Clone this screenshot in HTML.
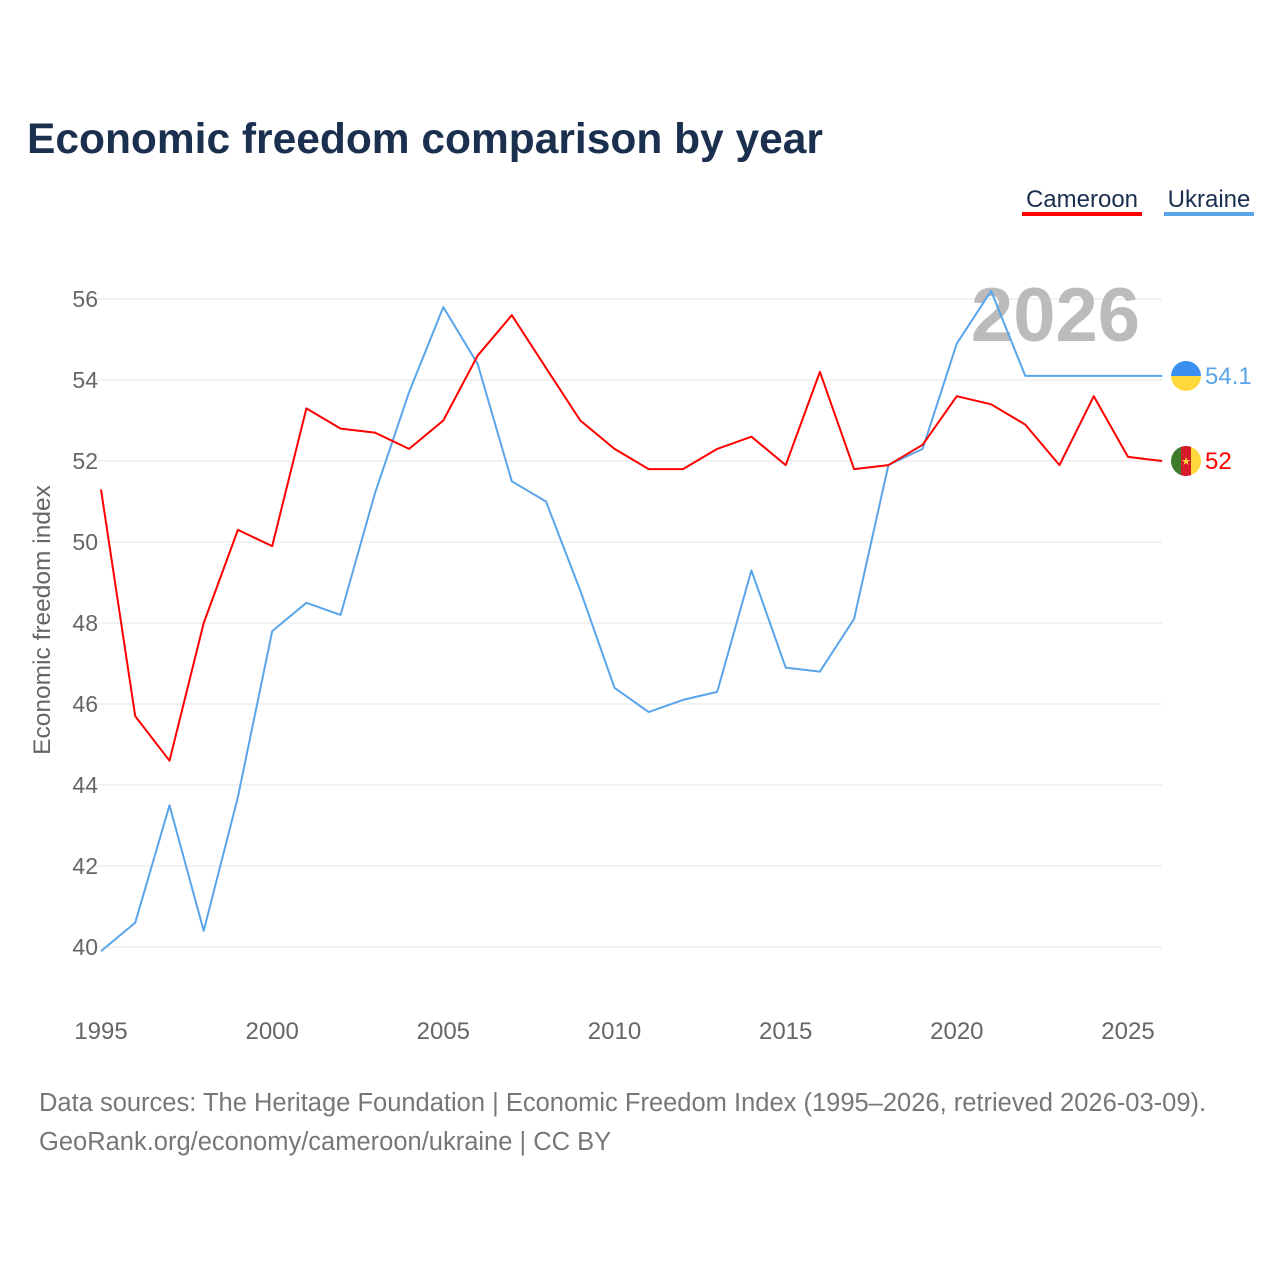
<!DOCTYPE html>
<html><head><meta charset="utf-8">
<style>
body{margin:0;background:#fff;font-family:"Liberation Sans",sans-serif;}
#wrap{position:relative;width:1280px;height:1280px;overflow:hidden;}
</style></head>
<body>
<div id="wrap">
<svg id="chart" width="1280" height="1280">
<defs><clipPath id="cmclip"><circle id="cmcirc" cx="1186" cy="461" r="15"/></clipPath></defs>
</svg>
</div>
<script>
const years=[1995,1996,1997,1998,1999,2000,2001,2002,2003,2004,2005,2006,2007,2008,2009,2010,2011,2012,2013,2014,2015,2016,2017,2018,2019,2020,2021,2022,2023,2024,2025,2026];
const cameroon=[51.3,45.7,44.6,48.0,50.3,49.9,53.3,52.8,52.7,52.3,53.0,54.6,55.6,54.3,53.0,52.3,51.8,51.8,52.3,52.6,51.9,54.2,51.8,51.9,52.4,53.6,53.4,52.9,51.9,53.6,52.1,52.0];
const ukraine=[39.9,40.6,43.5,40.4,43.7,47.8,48.5,48.2,51.2,53.7,55.8,54.4,51.5,51.0,48.8,46.4,45.8,46.1,46.3,49.3,46.9,46.8,48.1,51.9,52.3,54.9,56.2,54.1,54.1,54.1,54.1,54.1];
const yTicks=[40,42,44,46,48,50,52,54,56];
const xTicks=[1995,2000,2005,2010,2015,2020,2025];

const NS="http://www.w3.org/2000/svg";
const svg=document.getElementById('chart');
const x=v=>101+(v-1995)*(1128-101)/30;
const y=v=>947-(v-40)*(947-299)/16;
function mk(tag,attrs,text,parent){const e=document.createElementNS(NS,tag);for(const k in attrs)e.setAttribute(k,attrs[k]);if(text!==undefined)e.textContent=text;(parent||svg).appendChild(e);return e;}
const F='"Liberation Sans",sans-serif';

let t=mk('text',{x:27,y:153,'font-size':42.5,'font-weight':'bold',fill:'#1b2f4f','font-family':F},'Economic freedom comparison by year');



t=mk('text',{x:1082,y:207,'font-size':24,fill:'#1b2f4f','text-anchor':'middle','font-family':F},'Cameroon');


t=mk('rect',{x:1022,y:212,width:120,height:4,fill:'#ff0000'});


t=mk('text',{x:1209,y:207,'font-size':24,fill:'#1b2f4f','text-anchor':'middle','font-family':F},'Ukraine');


t=mk('rect',{x:1164,y:212,width:90,height:4,fill:'#5aa5ea'});



yTicks.forEach(v=>{
  let g=mk('line',{x1:95,x2:1162,y1:y(v),y2:y(v),stroke:'#e6e6e6','stroke-width':1});
  
  
  let l=mk('text',{x:98,y:y(v)+8,'font-size':23,fill:'#666','text-anchor':'end','font-family':F},String(v));
  
  
});
xTicks.forEach(v=>{
  let l=mk('text',{x:x(v),y:1039,'font-size':24,fill:'#666','text-anchor':'middle','font-family':F},String(v));
  
  
});
t=mk('text',{x:0,y:0,'font-size':24.5,fill:'#666','text-anchor':'middle','font-family':F,transform:'translate(50,620) rotate(-90)'},'Economic freedom index');



t=mk('text',{x:1140,y:341,'font-size':76,'font-weight':'bold',fill:'#bbbbbb','text-anchor':'end','font-family':F},'2026');



function line(data,color,name){
  const d=data.map((v,i)=>(i?'L':'M')+x(years[i]).toFixed(1)+','+y(v).toFixed(1)).join(' ');
  const p=mk('path',{d:d,fill:'none',stroke:color,'stroke-width':2,'stroke-linejoin':'round'});
  
  
}
line(ukraine,'#5aa5ea','ukraine-line');
line(cameroon,'#ff0000','cameroon-line');

const lx=1186;
const uy=y(ukraine[ukraine.length-1]), cy=y(cameroon[cameroon.length-1]);
let c=mk('path',{d:`M${lx-15},${uy} A15,15 0 0 1 ${lx+15},${uy} Z`,fill:'#3a8ff0'});


c=mk('path',{d:`M${lx-15},${uy} A15,15 0 0 0 ${lx+15},${uy} Z`,fill:'#ffd83d'});


t=mk('text',{x:1205,y:uy+8,'font-size':24,fill:'#5aa5ea','font-family':F},String(ukraine[ukraine.length-1]));



const circ=document.getElementById('cmcirc');circ.setAttribute('cy',cy);
const g=mk('g',{'clip-path':'url(#cmclip)'});


c=mk('rect',{x:lx-15,y:cy-15,width:10,height:30,fill:'#3d7a2c'},undefined,g);


c=mk('rect',{x:lx-5,y:cy-15,width:10,height:30,fill:'#d51a2a'},undefined,g);


c=mk('rect',{x:lx+5,y:cy-15,width:10,height:30,fill:'#ffd83d'},undefined,g);


t=mk('text',{x:lx,y:cy+4,'font-size':11,fill:'#ffd83d','text-anchor':'middle','font-family':'DejaVu Sans,sans-serif'},'★');


t=mk('text',{x:1205,y:cy+8,'font-size':24,fill:'#ff0000','font-family':F},String(cameroon[cameroon.length-1]));



t=mk('text',{x:39,y:1111,'font-size':25.5,fill:'#777','font-family':F},'Data sources: The Heritage Foundation | Economic Freedom Index (1995–2026, retrieved 2026-03-09).');


t=mk('text',{x:39,y:1150,'font-size':25.5,fill:'#777','font-family':F},'GeoRank.org/economy/cameroon/ukraine | CC BY');


</script>
</body></html>
